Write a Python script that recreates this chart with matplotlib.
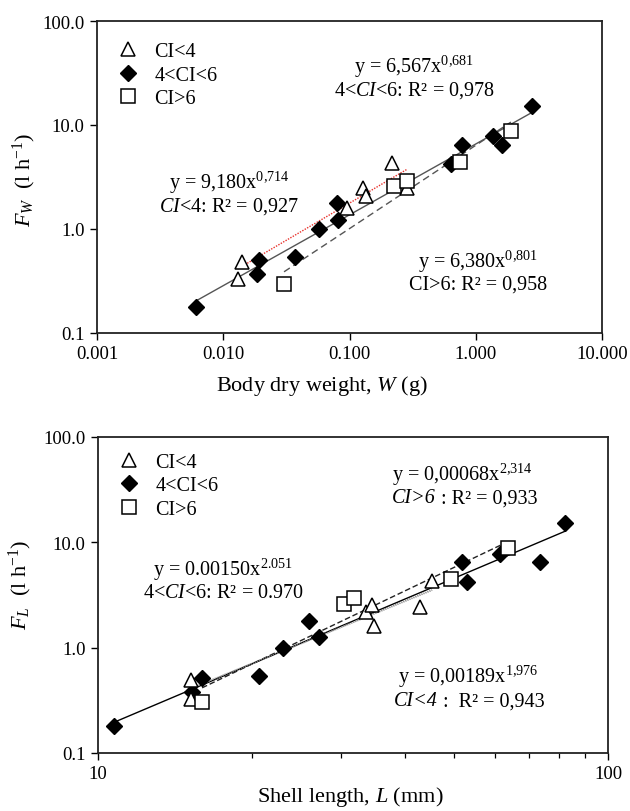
import numpy as np
import matplotlib
matplotlib.use('Agg')
import matplotlib.pyplot as plt
from matplotlib.ticker import FixedLocator, NullLocator, FuncFormatter
from matplotlib.lines import Line2D

plt.rcParams['font.family'] = ['Liberation Serif', 'DejaVu Serif']
plt.rcParams['mathtext.fontset'] = 'custom'
plt.rcParams['mathtext.rm'] = 'Liberation Serif'
plt.rcParams['mathtext.it'] = 'Liberation Serif:italic'
plt.rcParams['mathtext.bf'] = 'Liberation Serif:bold'

# ---------------- Data: top panel (body dry weight) ----------------
w_ci4 = [0.013, 0.0141, 0.0964, 0.129, 0.134, 0.216, 0.283]
fw_ci4 = [0.33, 0.485, 1.58, 2.46, 2.09, 4.31, 2.46]
w_ci46 = [0.00605, 0.0185, 0.0192, 0.0372, 0.0578, 0.0815, 0.080, 0.634, 0.778, 1.38, 1.60, 2.81]
fw_ci46 = [0.177, 0.369, 0.507, 0.535, 1.0, 1.23, 1.78, 4.22, 6.43, 7.78, 6.43, 15.3]
w_ci6 = [0.0303, 0.224, 0.283, 0.75, 1.90]
fw_ci6 = [0.296, 2.58, 2.91, 4.43, 8.8]

# fits: (a, b) for y = a * x^b
fit_w_ci46 = (6.567, 0.681)
fit_w_ci4 = (9.180, 0.714)
fit_w_ci6 = (6.380, 0.801)

# ---------------- Data: bottom panel (shell length) ----------------
l_ci4 = [15.2, 15.2, 33.5, 34.4, 34.8, 42.8, 45.2]
fl_ci4 = [0.495, 0.325, 2.16, 2.54, 1.61, 2.42, 4.31]
l_ci46 = [10.77, 15.29, 16.0, 20.7, 23.07, 25.97, 27.07, 51.7, 52.9, 61.5, 73.4, 82.2]
fl_ci46 = [0.179, 0.376, 0.51, 0.54, 1.0, 1.80, 1.25, 6.46, 4.23, 7.74, 6.55, 15.2]
l_ci6 = [16.0, 30.3, 31.8, 49.3, 63.7]
fl_ci6 = [0.302, 2.60, 2.94, 4.48, 8.77]

fit_l_ci46 = (0.00150, 2.051)
fit_l_ci6 = (0.00068, 2.314)
fit_l_ci4 = (0.00189, 1.976)

legend_labels = ['CI<4', '4<CI<6', 'CI>6']
y_ticks = [0.1, 1.0, 10.0, 100.0]
w_ticks = [0.001, 0.01, 0.1, 1.0, 10.0]
l_ticks = [10, 100]
l_minor = [20, 30, 40, 50, 60, 70, 80, 90]

W, H = 630, 812
fig = plt.figure(figsize=(W / 100, H / 100), dpi=100)

ANN = 14.5


def ax_rect(l, t, r, b):
    return [l / W, 1 - b / H, (r - l) / W, (b - t) / H]


def ftext(x, y, s, **kw):
    return fig.text(x / W, 1 - y / H, s, ha='center', va='center', **kw)


def ftext2(x, y, s_it, s_rm, size):
    """Italic part followed by roman part, starting at x (left edge)."""
    t1 = fig.text(x / W, 1 - y / H, s_it, ha='left', va='center',
                  fontsize=size, fontstyle='italic')
    fig.get_axes()[-1].annotate(s_rm, xy=(1, 0.5), xycoords=t1, ha='left', va='center',
                                fontsize=size, annotation_clip=False)


def fit_line(ax, xs, fit, **kw):
    a, b = fit
    x = np.logspace(np.log10(min(xs)), np.log10(max(xs)), 100)
    ax.plot(x, a * x ** b, **kw)


tri_kw = dict(marker='^', ms=9.5, mfc='white', mec='black', mew=1.1, ls='none', zorder=5)
dia_kw = dict(marker='D', ms=8.5, mfc='black', mec='black', mew=1.0, ls='none', zorder=4)
sq_kw = dict(marker='s', ms=10.5, mfc='white', mec='black', mew=1.1, ls='none', zorder=6)


def style_axes(ax):
    for sp in ax.spines.values():
        sp.set_linewidth(1.3)
        sp.set_color('#222222')
    ax.tick_params(which='major', direction='out', length=5, width=1.0, labelsize=13.5, pad=4)
    ax.tick_params(which='minor', direction='out', length=3.5, width=0.9)
    ax.yaxis.set_major_locator(FixedLocator(y_ticks))
    ax.yaxis.set_minor_locator(NullLocator())
    ax.yaxis.set_major_formatter(FuncFormatter(lambda v, p: f'{v:.1f}'))
    ax.set_ylim(0.1, 100)


def add_legend(ax, ytop):
    handles = [Line2D([], [], **tri_kw), Line2D([], [], **dia_kw), Line2D([], [], **sq_kw)]
    ax.legend(handles, legend_labels, loc='upper left', bbox_to_anchor=(0.03, ytop),
              frameon=False, fontsize=ANN, handlelength=1.0, handletextpad=0.8,
              labelspacing=0.22, borderaxespad=0, borderpad=0.3)


# ---------------- Top panel ----------------
ax1 = fig.add_axes(ax_rect(97, 22, 602, 334))
ax1.set_xscale('log')
ax1.set_yscale('log')
ax1.set_xlim(0.001, 10)
style_axes(ax1)
ax1.xaxis.set_major_locator(FixedLocator(w_ticks))
ax1.xaxis.set_minor_locator(NullLocator())
ax1.xaxis.set_major_formatter(FuncFormatter(lambda v, p: f'{v:.3f}'))

fit_line(ax1, w_ci46, fit_w_ci46, color='#555555', lw=1.0, zorder=2)
fit_line(ax1, w_ci4, fit_w_ci4, color='#e8302a', lw=1.0, ls=(0, (1, 1)), zorder=2)
fit_line(ax1, w_ci6, fit_w_ci6, color='#555555', lw=1.0, ls=(0, (5, 3)), zorder=2)

ax1.plot(w_ci46, fw_ci46, **dia_kw)
ax1.plot(w_ci4, fw_ci4, **tri_kw)
ax1.plot(w_ci6, fw_ci6, **sq_kw)
add_legend(ax1, 0.952)

ftext(414, 67, r'y = 6,567x$^{0{,}681}$', fontsize=ANN)
ftext(414, 91, r'4<$\mathit{CI}$<6: R² = 0,978', fontsize=ANN)
ftext(229, 183, r'y = 9,180x$^{0{,}714}$', fontsize=ANN)
ftext(229, 207, r'$\mathit{CI}$<4: R² = 0,927', fontsize=ANN)
ftext(478, 262, r'y = 6,380x$^{0{,}801}$', fontsize=ANN)
ftext(478, 285, r'CI>6: R² = 0,958', fontsize=ANN)

ftext(322, 386, r'Body dry weight, $\mathit{W}$ (g)', fontsize=16)
ftext(24, 180, r'$\mathit{F_W}$  (l h$^{\mathregular{-1}}$)', fontsize=16, rotation=90)

# ---------------- Bottom panel ----------------
ax2 = fig.add_axes(ax_rect(98, 438, 608, 754))
ax2.set_xscale('log')
ax2.set_yscale('log')
ax2.set_xlim(10, 100)
style_axes(ax2)
ax2.xaxis.set_major_locator(FixedLocator(l_ticks))
ax2.xaxis.set_minor_locator(FixedLocator(l_minor))
ax2.xaxis.set_major_formatter(FuncFormatter(lambda v, p: f'{v:g}'))
ax2.xaxis.set_minor_formatter(FuncFormatter(lambda v, p: ''))

fit_line(ax2, l_ci46, fit_l_ci46, color='black', lw=1.0, zorder=2)
fit_line(ax2, l_ci6, fit_l_ci6, color='#222222', lw=1.0, ls=(0, (4, 2)), zorder=2)
fit_line(ax2, l_ci4, fit_l_ci4, color='#777777', lw=1.3, ls=(0, (0.6, 0.6)), zorder=2)

ax2.plot(l_ci46, fl_ci46, **dia_kw)
ax2.plot(l_ci4, fl_ci4, **tri_kw)
ax2.plot(l_ci6, fl_ci6, **sq_kw)
add_legend(ax2, 0.97)

ftext(462, 475, r'y = 0,00068x$^{2{,}314}$', fontsize=ANN)
ftext2(392, 499, 'CI>6', ' : R² = 0,933', ANN)
ftext(223, 570, r'y = 0.00150x$^{2.051}$', fontsize=ANN)
ftext(223, 593, r'4<$\mathit{CI}$<6: R² = 0.970', fontsize=ANN)
ftext(468, 677, r'y = 0,00189x$^{1{,}976}$', fontsize=ANN)
ftext2(394, 702, 'CI<4', ' :  R² = 0,943', ANN)

ftext(350, 797, r'Shell length, $\mathit{L}$ (mm)', fontsize=16)
ftext(20, 585, r'$\mathit{F_L}$  (l h$^{\mathregular{-1}}$)', fontsize=16, rotation=90)

fig.savefig('out.png', dpi=100)
